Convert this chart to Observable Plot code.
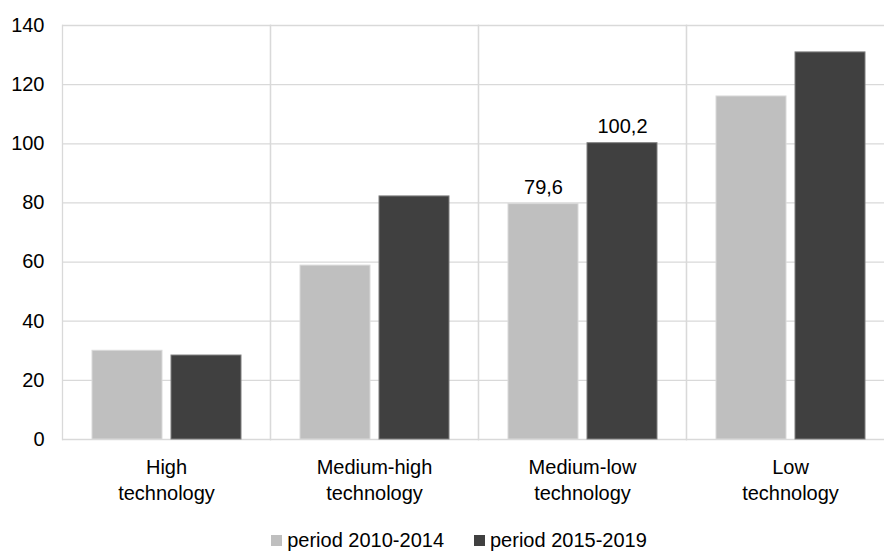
<!DOCTYPE html>
<html><head><meta charset="utf-8">
<script src="https://cdn.jsdelivr.net/npm/d3@7"></script>
<script src="https://cdn.jsdelivr.net/npm/@observablehq/plot@0.6"></script>
<style>
body{margin:0;background:#fff;font-family:"Liberation Sans",Arial,sans-serif;}
#legend{display:flex;justify-content:center;gap:30px;font-size:20px;color:#000;margin-top:14px;margin-left:34px}
#legend span.item{display:flex;align-items:center}
#legend span.sw{display:inline-block;width:11px;height:11px;margin-right:5px}
</style></head><body>
<div id="chart"></div>
<div id="legend"></div>
<script>
const categories = ["High technology","Medium-high technology","Medium-low technology","Low technology"];
const categoryLabels = ["High\ntechnology","Medium-high\ntechnology","Medium-low\ntechnology","Low\ntechnology"];
const series = ["period 2010-2014","period 2015-2019"];
const values2010_2014 = [30.0, 58.8, 79.6, 116.0];
const values2015_2019 = [28.4, 82.2, 100.2, 130.9];
const labelled = ["Medium-low technology"];
const yTicks = [0,20,40,60,80,100,120,140];
const colors = ["#bfbfbf","#404040"];
const strokes = ["#d9d9d9","#7f7f7f"];

const rows = [];
categories.forEach((c,i)=>{
  rows.push({cat:c, s:series[0], v:values2010_2014[i]});
  rows.push({cat:c, s:series[1], v:values2015_2019[i]});
});
const labelRows = rows.filter(d=>labelled.includes(d.cat));
const FONT = "'Liberation Sans',Arial,sans-serif";

const chart = Plot.plot({
  width:884, height:515,
  marginLeft:62, marginRight:-10, marginTop:25, marginBottom:76,
  style:{fontFamily:FONT, fontSize:"20px", color:"#000", background:"#fff"},
  fx:{domain:categories, padding:0, label:null},
  x:{domain:series, paddingInner:0.114, paddingOuter:0.373, axis:null},
  y:{domain:[0,140], label:null, axis:null},
  color:{domain:series, range:colors},
  marks:[
    Plot.ruleY(yTicks,{stroke:"#d9d9d9",strokeWidth:1.3}),
    Plot.frame({anchor:"left",stroke:"#d9d9d9",strokeWidth:1.3}),
    Plot.frame({anchor:"right",stroke:"#d9d9d9",strokeWidth:1.3}),
    Plot.barY(rows,{fx:"cat",x:"s",y:"v",fill:"s",stroke:d=>strokes[series.indexOf(d.s)],strokeWidth:1}),
    Plot.text(labelRows,{fx:"cat",x:"s",y:"v",text:d=>d.v.toFixed(1).replace(".",","),dy:-10,lineAnchor:"bottom",fontSize:20,fill:"#000"}),
    Plot.axisY({ticks:yTicks,tickSize:0,tickPadding:18,fontSize:20,label:null,anchor:"left"}),
    Plot.axisFx({anchor:"bottom",tickSize:0,tickPadding:16,fontSize:20,lineHeight:1.3,label:null,tickFormat:d=>categoryLabels[categories.indexOf(d)]})
  ]
});
document.getElementById("chart").appendChild(chart);

const lg = d3.select("#legend");
series.forEach((s,i)=>{
  const it = lg.append("span").attr("class","item");
  it.append("span").attr("class","sw").style("background",colors[i]);
  it.append("span").text(s);
});
</script>
</body></html>
